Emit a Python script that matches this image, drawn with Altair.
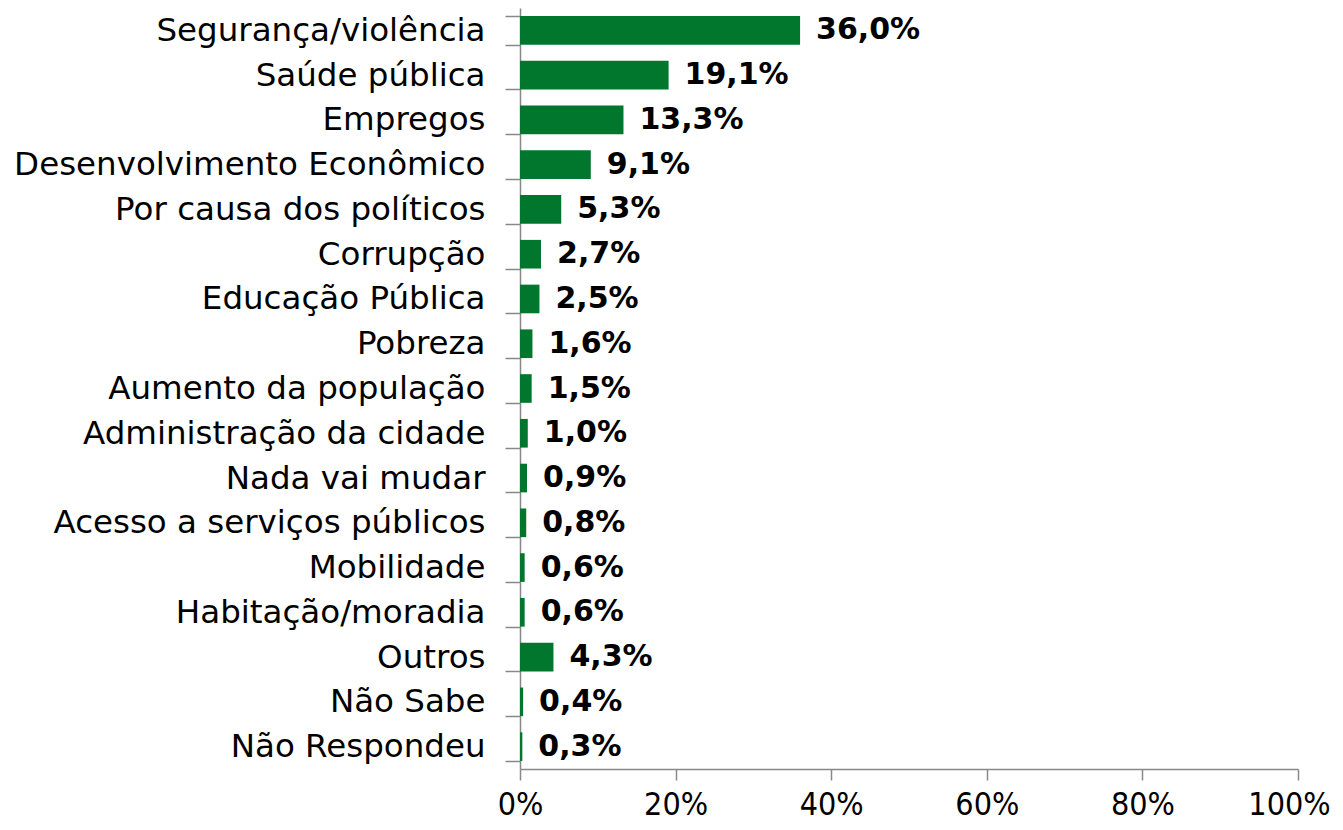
import altair as alt
import pandas as pd

categories = [
    "Segurança/violência", "Saúde pública", "Empregos", "Desenvolvimento Econômico",
    "Por causa dos políticos", "Corrupção", "Educação Pública", "Pobreza",
    "Aumento da população", "Administração da cidade", "Nada vai mudar",
    "Acesso a serviços públicos", "Mobilidade", "Habitação/moradia", "Outros",
    "Não Sabe", "Não Respondeu",
]
values = [36.0, 19.1, 13.3, 9.1, 5.3, 2.7, 2.5, 1.6, 1.5, 1.0, 0.9, 0.8, 0.6, 0.6, 4.3, 0.4, 0.3]
x_ticks = [0, 20, 40, 60, 80, 100]

df = pd.DataFrame({
    "cat": categories,
    "val": values,
    "label": [f"{v:.1f}".replace(".", ",") + "%" for v in values],
})

FONT = "DejaVu Sans"
GREEN = "#00772D"

y_enc = alt.Y(
    "cat:N", sort=categories, title=None,
    scale=alt.Scale(paddingInner=0.36, paddingOuter=0.18),
    axis=alt.Axis(
        tickBand="extent", tickSize=15, tickColor="#888888", domainColor="#888888",
        labelFont=FONT, labelFontSize=32.5, labelColor="#000000", labelPadding=20,
        domainWidth=1.5, tickWidth=1.5, labelLimit=600,
    ),
)
x_enc = alt.X(
    "val:Q", title=None,
    scale=alt.Scale(domain=[0, 100], nice=False),
    axis=alt.Axis(
        values=x_ticks, labelExpr="datum.value + '%'", grid=False,
        tickSize=11, tickColor="#888888", domainColor="#888888", domainWidth=1.5, tickWidth=1.5,
        labelFont="DejaVu Sans Condensed", labelFontSize=32, labelColor="#000000",
        labelPadding=9, labelFlush=False,
        labelOffset={"condition": {"test": "datum.value == 100", "value": -9}, "value": 0},
    ),
)

bars = alt.Chart(df).mark_bar(color=GREEN).encode(x=x_enc, y=y_enc)
texts = alt.Chart(df).mark_text(
    align="left", baseline="middle", dx=16, font=FONT, fontSize=30, fontWeight="bold", color="#000000"
).encode(x=alt.X("val:Q"), y=alt.Y("cat:N", sort=categories), text="label:N")

chart = (bars + texts).properties(
    width=778, height=761,
    autosize=alt.AutoSizeParams(type="none"),
    padding={"left": 512, "top": 0, "right": 37, "bottom": 53},
).configure_view(stroke=None)

chart.save("out.html", embed_options={"renderer": "svg", "actions": False})
